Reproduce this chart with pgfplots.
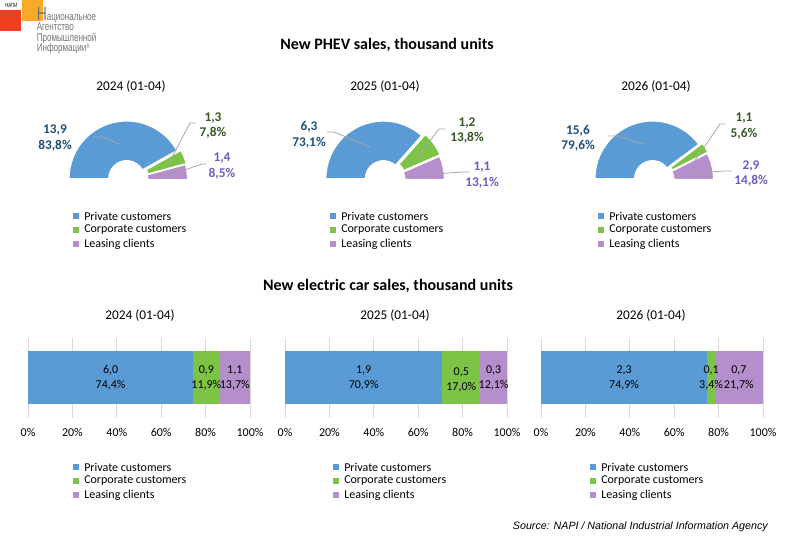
\documentclass[border=0pt]{standalone}
\usepackage{pgfplots}
\pgfplotsset{compat=1.18}
\usetikzlibrary{calc}
\usepackage{fontspec}
\setmainfont{Carlito}
\newfontfamily\srcfont{Liberation Sans}
\newfontfamily\logofont[FakeStretch=0.72]{Liberation Sans}

\definecolor{pblue}{RGB}{91,155,213}
\definecolor{pgreen}{RGB}{125,196,70}
\definecolor{ppurple}{RGB}{181,142,204}
\definecolor{lblue}{RGB}{31,78,121}
\definecolor{lgreen}{RGB}{56,87,35}
\definecolor{lpurple}{RGB}{107,95,190}
\definecolor{gridc}{RGB}{217,217,217}
\definecolor{leadc}{RGB}{166,166,166}
\definecolor{logored}{RGB}{240,62,32}
\definecolor{logoorange}{RGB}{248,170,40}
\definecolor{logogray}{RGB}{115,115,115}

\newcommand\titlefont{\bfseries\fontsize{12}{14}\selectfont}
\newcommand\subfont{\fontsize{10}{12}\selectfont}
\newcommand\legfont{\fontsize{9}{10}\selectfont}
\newcommand\barfont{\fontsize{9}{11.25}\selectfont}
\newcommand\pfont{\bfseries\fontsize{10}{11.5}\selectfont}

\newcommand\rin{13.5pt}
\newcommand\rout{43.1pt}
% #1 cx, #2 cy (px), #3 start angle, #4 end angle, #5 explode (px), #6 colour
\newcommand\slice[6]{%
  \coordinate (c) at ($(axis cs:#1,#2)+({((#3)+(#4))/2}:{(#5)*0.75pt})$);
  \fill[#6, draw=white, line width=0.75pt]
    ($(c)+({#3}:\rin)$) -- ($(c)+({#3}:\rout)$)
    arc[start angle={#3}, end angle={#4}, radius=\rout]
    -- ($(c)+({#4}:\rin)$)
    arc[start angle={#4}, end angle={#3}, radius=\rin] -- cycle;}

\newcommand\mylegend[2]{% x of text, y first row
  \fill[pblue] (axis cs:#1-11,#2-3) rectangle (axis cs:#1-5,#2+3);
  \fill[pgreen] (axis cs:#1-11,#2+11) rectangle (axis cs:#1-5,#2+17);
  \fill[ppurple] (axis cs:#1-11,#2+25) rectangle (axis cs:#1-5,#2+31);
  \node[anchor=west, font=\legfont, inner sep=0pt] at (axis cs:#1,#2) {Private customers};
  \node[anchor=west, font=\legfont, inner sep=0pt] at (axis cs:#1,#2+14) {Corporate customers};
  \node[anchor=west, font=\legfont, inner sep=0pt] at (axis cs:#1,#2+28) {Leasing clients};}

\pgfplotsset{baraxis/.style={
  xbar stacked, anchor=south west, scale only axis,
  width=166.5pt, height=60pt,
  xmin=0, xmax=100, ymin=-0.75, ymax=0.75,
  axis line style={draw=none}, ytick=\empty,
  xtick={0,20,40,60,80,100},
  xticklabels={0\%,20\%,40\%,60\%,80\%,100\%},
  major tick length=0pt,
  xmajorgrids, grid style={gridc, line width=0.75pt},
  bar width=39.75pt,
  xticklabel style={font=\barfont, yshift=-4.2pt},
}}

\begin{document}
\begin{tikzpicture}
\useasboundingbox (0,0) rectangle (600pt,405.75pt);
% bar charts (100% stacked)
\begin{axis}[baraxis, at={(21pt,92.25pt)}]
\addplot[fill=pblue, draw=none] coordinates {(74.4,0)};
\addplot[fill=pgreen, draw=none] coordinates {(11.9,0)};
\addplot[fill=ppurple, draw=none] coordinates {(13.7,0)};
\end{axis}
\begin{axis}[baraxis, at={(213.75pt,92.25pt)}]
\addplot[fill=pblue, draw=none] coordinates {(70.9,0)};
\addplot[fill=pgreen, draw=none] coordinates {(17.0,0)};
\addplot[fill=ppurple, draw=none] coordinates {(12.1,0)};
\end{axis}
\begin{axis}[baraxis, at={(405.75pt,92.25pt)}]
\addplot[fill=pblue, draw=none] coordinates {(74.9,0)};
\addplot[fill=pgreen, draw=none] coordinates {(3.4,0)};
\addplot[fill=ppurple, draw=none] coordinates {(21.7,0)};
\end{axis}

\begin{axis}[at={(0,0)}, anchor=south west, x=0.75pt, y=0.75pt,
  xmin=0, xmax=800, ymin=0, ymax=541, y dir=reverse,
  hide axis, scale only axis, clip=false]
% logo
\fill[logored] (axis cs:0,10) rectangle (axis cs:21,31);
\fill[logoorange] (axis cs:22,0) rectangle (axis cs:43,21);
\node[anchor=base west, inner sep=0pt, font=\logofont\fontsize{4.5}{5}\selectfont] at (axis cs:5,8) {НАПИ};
\node[anchor=north west, inner sep=0pt, align=left, text=logogray, font=\logofont\fontsize{8.4}{7.9}\selectfont] at (axis cs:36.5,6.5) {{\fontsize{14.5}{7.9}\selectfont Н}ациональное\\Агентство\\Промышленной\\Информации\raisebox{0.5ex}{\fontsize{5}{5}\selectfont®}};

% titles
\node[font=\titlefont] at (axis cs:387,45) {New PHEV sales, thousand units};
\node[font=\titlefont] at (axis cs:388,286) {New electric car sales, thousand units};
\node[font=\subfont] at (axis cs:131,87) {2024 (01-04)};
\node[font=\subfont] at (axis cs:385,87) {2025 (01-04)};
\node[font=\subfont] at (axis cs:656,87) {2026 (01-04)};
\node[font=\subfont] at (axis cs:140,316) {2024 (01-04)};
\node[font=\subfont] at (axis cs:395,316) {2025 (01-04)};
\node[font=\subfont] at (axis cs:651,316) {2026 (01-04)};

% semi-donuts (angles from shares: 180 deg = 100%)
\slice{127}{180}{180}{180-1.8*83.8}{1.5}{pblue}
\slice{127}{180}{180-1.8*83.8}{180-1.8*91.6}{4}{pgreen}
\slice{127}{180}{180-1.8*91.6}{0}{3}{ppurple}
\slice{384}{180}{180}{180-1.8*73.1}{1.5}{pblue}
\slice{384}{180}{180-1.8*73.1}{180-1.8*86.9}{4}{pgreen}
\slice{384}{180}{180-1.8*86.9}{0}{3}{ppurple}
\slice{653}{180}{180}{180-1.8*79.6}{1.5}{pblue}
\slice{653}{180}{180-1.8*79.6}{180-1.8*85.2}{4}{pgreen}
\slice{653}{180}{180-1.8*85.2}{0}{3}{ppurple}

% leader lines
\draw[leadc, line width=0.6pt] (axis cs:93,137) -- (axis cs:103,137) -- (axis cs:119,144);
\draw[leadc, line width=0.6pt] (axis cs:196,123) -- (axis cs:190,123) -- (axis cs:168,165);
\draw[leadc, line width=0.6pt] (axis cs:206,164) -- (axis cs:202,164) -- (axis cs:167,176);
\draw[leadc, line width=0.6pt] (axis cs:327,132) -- (axis cs:334,132) -- (axis cs:370,147);
\draw[leadc, line width=0.6pt] (axis cs:445,129) -- (axis cs:439,129) -- (axis cs:417,158);
\draw[leadc, line width=0.6pt] (axis cs:470,172) -- (axis cs:462,172) -- (axis cs:423,175);
\draw[leadc, line width=0.6pt] (axis cs:608,136) -- (axis cs:617,136) -- (axis cs:643,144);
\draw[leadc, line width=0.6pt] (axis cs:725,124) -- (axis cs:720,124) -- (axis cs:692,165);
\draw[leadc, line width=0.6pt] (axis cs:732,171) -- (axis cs:725,171) -- (axis cs:692,173);

% donut labels
\node[align=center, font=\pfont, text=lblue] at (axis cs:55,138) {13,9\\83,8\%};
\node[align=center, font=\pfont, text=lgreen] at (axis cs:213,125.5) {1,3\\7,8\%};
\node[align=center, font=\pfont, text=lpurple] at (axis cs:222,166) {1,4\\8,5\%};
\node[align=center, font=\pfont, text=lblue] at (axis cs:309,135) {6,3\\73,1\%};
\node[align=center, font=\pfont, text=lgreen] at (axis cs:467,130.5) {1,2\\13,8\%};
\node[align=center, font=\pfont, text=lpurple] at (axis cs:482,175) {1,1\\13,1\%};
\node[align=center, font=\pfont, text=lblue] at (axis cs:578,138.5) {15,6\\79,6\%};
\node[align=center, font=\pfont, text=lgreen] at (axis cs:744,126) {1,1\\5,6\%};
\node[align=center, font=\pfont, text=lpurple] at (axis cs:751,173.5) {2,9\\14,8\%};

% bar labels (centres of the stacked segments)
\node[align=center, font=\barfont, inner sep=0pt] at (axis cs:110.6,378) {6,0\\74,4\%};
\node[align=center, font=\barfont, inner sep=0pt] at (axis cs:206.4,378) {0,9\\11,9\%};
\node[align=center, font=\barfont, inner sep=0pt] at (axis cs:234.8,378) {1,1\\13,7\%};
\node[align=center, font=\barfont, inner sep=0pt] at (axis cs:363.7,378) {1,9\\70,9\%};
\node[align=center, font=\barfont, inner sep=0pt] at (axis cs:461.3,380) {0,5\\17,0\%};
\node[align=center, font=\barfont, inner sep=0pt] at (axis cs:493.6,378) {0,3\\12,1\%};
\node[align=center, font=\barfont, inner sep=0pt] at (axis cs:624.1,378) {2,3\\74,9\%};
\node[align=center, font=\barfont, inner sep=0pt] at (axis cs:711.1,378) {0,1\\3,4\%};
\node[align=center, font=\barfont, inner sep=0pt] at (axis cs:738.9,378) {0,7\\21,7\%};

% legends
\mylegend{84}{216}
\mylegend{341}{216}
\mylegend{609}{216}
\mylegend{84}{467}
\mylegend{344}{467}
\mylegend{601}{467}

% source
\node[anchor=east, inner sep=0pt, font=\srcfont\itshape\fontsize{8}{9}\selectfont] at (axis cs:768,527) {Source: NAPI / National Industrial Information Agency};
\end{axis}
\end{tikzpicture}
\end{document}
